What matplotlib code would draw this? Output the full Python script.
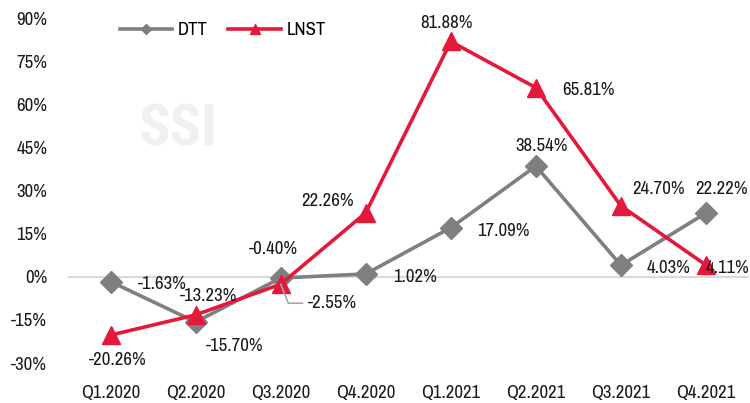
import matplotlib
matplotlib.use('Agg')
import matplotlib.pyplot as plt

plt.rcParams['font.family'] = ['Archivo Narrow', 'DejaVu Sans']

quarters = ['Q1.2020', 'Q2.2020', 'Q3.2020', 'Q4.2020', 'Q1.2021', 'Q2.2021', 'Q3.2021', 'Q4.2021']
dtt = [-1.63, -15.70, -0.40, 1.02, 17.09, 38.54, 4.03, 22.22]
lnst = [-20.26, -13.23, -2.55, 22.26, 81.88, 65.81, 24.70, 4.11]
yticks = [-30, -15, 0, 15, 30, 45, 60, 75, 90]

# label offsets in pixels (hand placed like the excel chart)
dtt_off = [(52, -2), (39, -24), (-7, 29), (49, -3), (53, -3), (6, 20), (48, -3), (16, 24)]
lnst_off = [(7, -25), (13, 19), (52, -19), (-38, 12), (-4, 18), (53, -2), (38, 17), (21, -3)]

gray = '#7f7f7f'
red = '#e4183b'
fs = 13.5

fig = plt.figure(figsize=(7.5, 4.03), dpi=100)
ax = fig.add_axes([0.0907, 0.099, 0.9073, 0.856])

x = list(range(len(quarters)))
ax.axhline(0, color='#d9d9d9', lw=1.5, zorder=1)
ax.plot(x, dtt, color=gray, lw=2.6, marker='D', ms=11, label='DTT', zorder=3)
ax.plot(x, lnst, color=red, lw=2.6, marker='^', ms=13, label='LNST', zorder=4)

for i, v in enumerate(dtt):
    ax.annotate('%.2f%%' % v, (i, v), xytext=dtt_off[i], textcoords='offset pixels',
                ha='center', va='center', fontsize=fs, color='#1a1a1a', zorder=5)
for i, v in enumerate(lnst):
    if i == 2:
        # leader line like excel
        ax.annotate('%.2f%%' % v, (i, v), xytext=lnst_off[i], textcoords='offset pixels',
                    ha='center', va='center', fontsize=fs, color='#1a1a1a', zorder=5,
                    arrowprops=dict(arrowstyle='-', color='#a6a6a6', lw=1.2,
                                    shrinkA=2, shrinkB=0, relpos=(0, 0.5),
                                    connectionstyle='angle,angleA=0,angleB=112,rad=0'))
    else:
        ax.annotate('%.2f%%' % v, (i, v), xytext=lnst_off[i], textcoords='offset pixels',
                    ha='center', va='center', fontsize=fs, color='#1a1a1a', zorder=5)

# watermark
ax.text(0.8, 51, 'SSI', fontsize=42, fontweight='bold', color='#f0f0f0',
        family=['Roboto Condensed', 'DejaVu Sans'], ha='center', va='center', zorder=0)

ax.set_xlim(-0.5, 7.5)
ax.set_ylim(-30, 90)
ax.set_xticks(x)
ax.set_xticklabels(quarters)
ax.set_yticks(yticks)
ax.set_yticklabels(['%d%%' % t for t in yticks])
ax.tick_params(length=0, labelsize=fs, colors='#1a1a1a')
ax.tick_params(axis='x', pad=16)
ax.tick_params(axis='y', pad=15)
for s in ax.spines.values():
    s.set_visible(False)

ax.legend(loc='upper left', bbox_to_anchor=(0.065, 1.01), borderaxespad=0, ncol=2,
          frameon=False, fontsize=fs, handlelength=2.8, columnspacing=1.1,
          handletextpad=0.3, markerscale=0.5)

fig.savefig('out.png', dpi=100)
